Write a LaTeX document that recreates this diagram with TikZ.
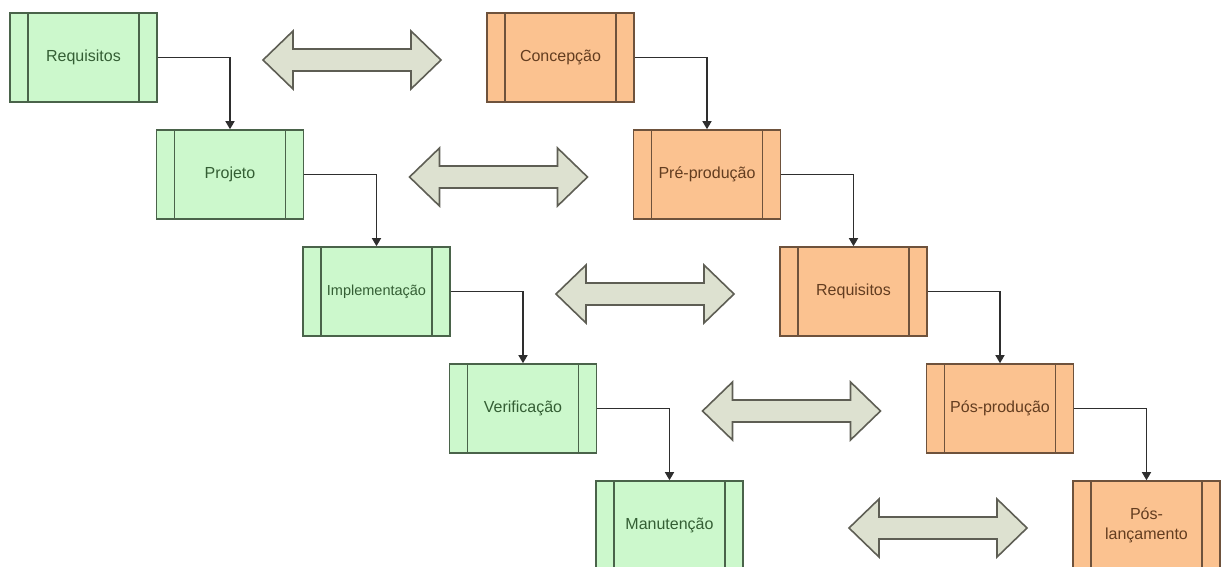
\documentclass[tikz,border=0pt]{standalone}
\usepackage{fontspec}
\setmainfont{Liberation Sans}
\usetikzlibrary{arrows.meta}
\definecolor{gfill}{HTML}{CCF8CC}
\definecolor{gdraw}{HTML}{4A634A}
\definecolor{gtext}{HTML}{345E34}
\definecolor{ofill}{HTML}{FBC290}
\definecolor{odraw}{HTML}{6E523C}
\definecolor{otext}{HTML}{633D20}
\definecolor{afill}{HTML}{DDE1D0}
\definecolor{adraw}{HTML}{5E5E54}
\definecolor{lcol}{HTML}{2E2E2E}
\tikzset{
  pbox/.style n args={3}{draw=#2, fill=#1, text=#3, line width=1.6pt,
    minimum width=147pt, minimum height=89pt, inner sep=0pt,
    font=\fontsize{16}{20}\selectfont, align=center,
    path picture={
      \draw[#2, line width=1.6pt]
        ([xshift=18pt]path picture bounding box.north west) --
        ([xshift=18pt]path picture bounding box.south west);
      \draw[#2, line width=1.6pt]
        ([xshift=-18pt]path picture bounding box.north east) --
        ([xshift=-18pt]path picture bounding box.south east);
    }},
  gbox/.style={pbox={gfill}{gdraw}{gtext}},
  obox/.style={pbox={ofill}{odraw}{otext}},
  conn/.style={draw=lcol, line width=1.4pt, -{Triangle[length=8pt,width=9pt]}},
  dblstyle/.style={draw=adraw, fill=afill, line width=1.6pt, line join=miter},
  dbl/.pic={
    \draw[dblstyle] (-89,0) -- (-59,-29) -- (-59,-11) -- (59,-11) -- (59,-29)
      -- (89,0) -- (59,29) -- (59,11) -- (-59,11) -- (-59,29) -- cycle;
  }
}
\begin{document}
\begin{tikzpicture}[x=1pt,y=-1pt]
\useasboundingbox (0,0) rectangle (1227,566);
\clip (0,0) rectangle (1227,566);
% green column
\node[gbox] (g1) at (83.5,57.5) {Requisitos};
\node[gbox] (g2) at (230,174.5) {Projeto};
\node[gbox, font=\fontsize{14.5}{18}\selectfont] (g3) at (376.5,291.5) {Implementação};
\node[gbox] (g4) at (523,408.5) {Verificação};
\node[gbox] (g5) at (669.5,525.5) {Manutenção};
% orange column
\node[obox] (o1) at (560.5,57.5) {Concepção};
\node[obox] (o2) at (707,174.5) {Pré-produção};
\node[obox] (o3) at (853.5,291.5) {Requisitos};
\node[obox] (o4) at (1000,408.5) {Pós-produção};
\node[obox] (o5) at (1146.5,525.5) {Pós-\\lançamento};
% connectors
\draw[conn] (g1.east) -| (g2.north);
\draw[conn] (g2.east) -| (g3.north);
\draw[conn] (g3.east) -| (g4.north);
\draw[conn] (g4.east) -| (g5.north);
\draw[conn] (o1.east) -| (o2.north);
\draw[conn] (o2.east) -| (o3.north);
\draw[conn] (o3.east) -| (o4.north);
\draw[conn] (o4.east) -| (o5.north);
% double arrows
\pic at (352,60) {dbl};
\pic at (498.5,177) {dbl};
\pic at (645,294) {dbl};
\pic at (791.5,411) {dbl};
\pic at (938,528) {dbl};
\end{tikzpicture}
\end{document}
